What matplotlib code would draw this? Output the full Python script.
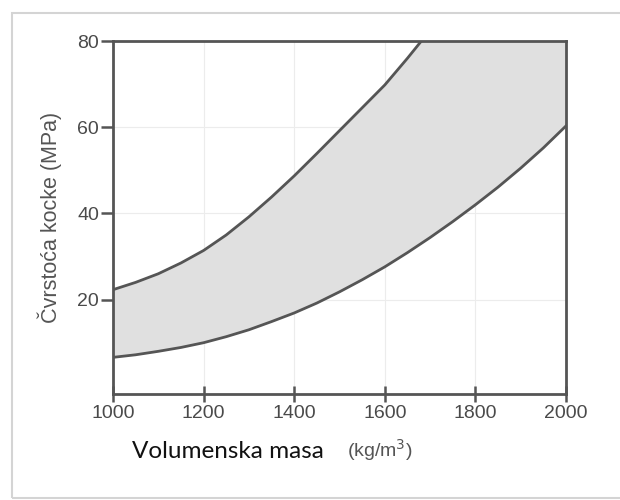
import numpy as np
import matplotlib
matplotlib.use("Agg")
import matplotlib.pyplot as plt
from matplotlib.patches import Rectangle

# upper and lower bound of the band
masa_gornja = [1000, 1050, 1100, 1150, 1200, 1250, 1300, 1350, 1400, 1450,
               1500, 1550, 1600, 1650, 1700]
cvrstoca_gornja = [22.3, 24.0, 26.0, 28.5, 31.4, 35.0, 39.2, 43.8, 48.7, 53.9,
                   59.2, 64.5, 69.8, 76.0, 82.5]

masa_donja = [1000, 1050, 1100, 1150, 1200, 1250, 1300, 1350, 1400, 1450, 1500,
              1550, 1600, 1650, 1700, 1750, 1800, 1850, 1900, 1950, 2000]
cvrstoca_donja = [6.6, 7.2, 8.0, 8.9, 10.0, 11.4, 13.0, 14.9, 16.9, 19.2, 21.8,
                  24.6, 27.6, 30.9, 34.4, 38.1, 42.0, 46.1, 50.5, 55.2, 60.3]

x_ticks = [1000, 1200, 1400, 1600, 1800, 2000]
y_ticks = [20, 40, 60, 80]

siva = "#555555"

fig = plt.figure(figsize=(6.2, 5.0), dpi=100)
fig.patch.set_facecolor("white")

# frame of the scanned picture
fig.patches.append(Rectangle((12 / 620, 2 / 500), 1.0, 485 / 500, transform=fig.transFigure,
                             fill=False, edgecolor="#d4d4d4", linewidth=1.5))

ax = fig.add_axes([113 / 620, 106 / 500, 453 / 620, 353 / 500])

# band between the curves (upper curve capped by the top of the chart)
gornja_na_donjoj = np.interp(masa_donja, masa_gornja, cvrstoca_gornja)
ax.fill_between(masa_donja, cvrstoca_donja, gornja_na_donjoj,
                color="#e0e0e0", linewidth=0, zorder=1)
ax.plot(masa_gornja, cvrstoca_gornja, color=siva, linewidth=2, zorder=3)
ax.plot(masa_donja, cvrstoca_donja, color=siva, linewidth=2, zorder=3)

ax.set_xlim(1000, 2000)
ax.set_ylim(-1.9, 80)
ax.set_xticks(x_ticks)
ax.set_yticks(y_ticks)
ax.grid(True, color="#ececec", linewidth=0.8, zorder=0)
ax.set_axisbelow(True)

for s in ax.spines.values():
    s.set_color(siva)
    s.set_linewidth(2)

ax.tick_params(axis="x", direction="inout", length=12, width=1.8, color=siva,
               labelsize=14, labelcolor="#4a4a4a", pad=2)
ax.tick_params(axis="y", direction="out", length=9, width=1.8, color=siva,
               labelsize=14, labelcolor="#4a4a4a", pad=1)
for lab in ax.get_xticklabels() + ax.get_yticklabels():
    lab.set_family("Liberation Sans")

ax.set_ylabel("Čvrstoća kocke (MPa)", fontsize=15.5, color=siva,
              family="Liberation Sans", labelpad=11)

fig.text(132 / 620, 1 - 451 / 500, "Volumenska masa", fontsize=17.5, family="Lato",
         color="#111111", va="center", ha="left")
fig.text(347 / 620, 1 - 450 / 500, "(kg/m$^3$)", fontsize=14, family="Liberation Sans",
         color=siva, va="center", ha="left")

fig.savefig("out.png", dpi=100)
